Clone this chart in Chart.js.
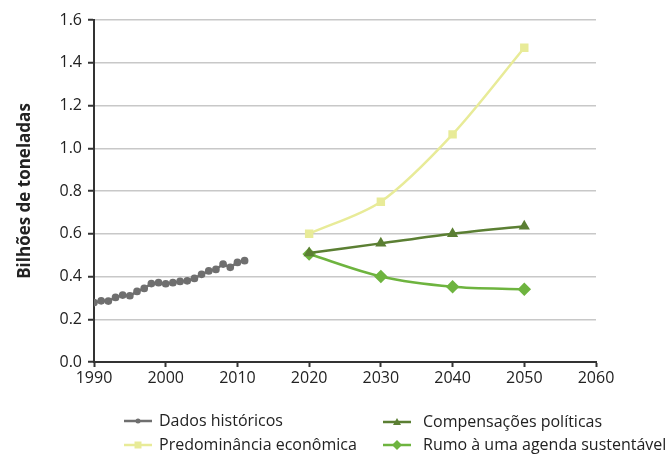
<!DOCTYPE html>
<html>
<head>
<meta charset="utf-8">
<script src="https://cdn.jsdelivr.net/npm/chart.js@4/dist/chart.umd.min.js"></script>
<style>
  html, body { margin: 0; padding: 0; background: #fff; }
  #wrap { width: 672px; height: 456px; position: relative; }
</style>
</head>
<body>
<div id="wrap"><canvas id="chart" width="672" height="456"></canvas></div>
<script>
const histYears = [1990, 1991, 1992, 1993, 1994, 1995, 1996, 1997, 1998, 1999, 2000,
  2001, 2002, 2003, 2004, 2005, 2006, 2007, 2008, 2009, 2010, 2011];
const histValues = [0.278, 0.286, 0.285, 0.302, 0.313, 0.31, 0.33, 0.344, 0.367, 0.371, 0.366,
  0.371, 0.377, 0.38, 0.391, 0.41, 0.426, 0.433, 0.458, 0.443, 0.466, 0.474];

const projYears = [2020, 2030, 2040, 2050];
const economica = [0.60, 0.75, 1.065, 1.47];
const compensacoes = [0.51, 0.555, 0.60, 0.635];
const sustentavel = [0.505, 0.40, 0.352, 0.34];

const yTicks = [0, 0.2, 0.4, 0.6, 0.8, 1.0, 1.2, 1.4, 1.6];
const xTicks = [1990, 2000, 2010, 2020, 2030, 2040, 2050, 2060];

const FONT = '"Open Sans", Lato, sans-serif';
const toPoints = (xs, ys) => xs.map((x, i) => ({ x: x, y: ys[i] }));

// legend slots: [lineStart x, line y, text x]
const legendSlots = [
  [124, 421, 159],
  [383, 422, 423],
  [124, 445, 159],
  [383, 445, 423]
];

const legendPlugin = {
  id: 'gridLegend',
  afterDraw(chart) {
    const ctx = chart.ctx;
    chart.data.datasets.forEach((ds, i) => {
      const [lx, ly, tx] = legendSlots[i];
      ctx.save();
      ctx.strokeStyle = ds.borderColor;
      ctx.lineWidth = 2.5;
      ctx.beginPath();
      ctx.moveTo(lx, ly);
      ctx.lineTo(lx + 28, ly);
      ctx.stroke();
      ctx.fillStyle = ds.backgroundColor;
      const cx = lx + 14;
      ctx.beginPath();
      if (ds.pointStyle === 'rect') {
        ctx.rect(cx - 3.5, ly - 3.5, 7, 7);
      } else if (ds.pointStyle === 'triangle') {
        ctx.moveTo(cx, ly - 4); ctx.lineTo(cx + 4, ly + 3); ctx.lineTo(cx - 4, ly + 3); ctx.closePath();
      } else if (ds.pointStyle === 'rectRot') {
        ctx.moveTo(cx, ly - 5); ctx.lineTo(cx + 5, ly); ctx.lineTo(cx, ly + 5); ctx.lineTo(cx - 5, ly); ctx.closePath();
      } else {
        ctx.arc(cx, ly, 2.5, 0, Math.PI * 2);
      }
      ctx.fill();
      ctx.fillStyle = '#222';
      ctx.font = '16px ' + FONT;
      ctx.textBaseline = 'middle';
      ctx.textAlign = 'left';
      ctx.fillText(ds.label, tx, ly);
      ctx.restore();
    });
  }
};

new Chart(document.getElementById('chart'), {
  type: 'line',
  data: {
    datasets: [
      {
        label: 'Dados históricos',
        data: toPoints(histYears, histValues),
        borderColor: '#6f6f6f',
        backgroundColor: '#6f6f6f',
        pointStyle: 'circle',
        pointRadius: 2.6,
        borderWidth: 2.5,
        tension: 0
      },
      {
        label: 'Compensações políticas',
        data: toPoints(projYears, compensacoes),
        borderColor: '#5b7f33',
        backgroundColor: '#5b7f33',
        pointStyle: 'triangle',
        pointRadius: 4,
        borderWidth: 2.5,
        tension: 0.3
      },
      {
        label: 'Predominância econômica',
        data: toPoints(projYears, economica),
        borderColor: '#e8eb98',
        backgroundColor: '#e8eb98',
        pointStyle: 'rect',
        pointRadius: 4.2,
        borderWidth: 2.5,
        tension: 0.3
      },
      {
        label: 'Rumo à uma agenda sustentável',
        data: toPoints(projYears, sustentavel),
        borderColor: '#6eb43f',
        backgroundColor: '#6eb43f',
        pointStyle: 'rectRot',
        pointRadius: 5,
        borderWidth: 2.5,
        tension: 0.3
      }
    ]
  },
  options: {
    responsive: false,
    animation: false,
    layout: { padding: { left: 15, right: 76, top: 20, bottom: 0 } },
    plugins: {
      legend: { display: false },
      tooltip: { enabled: false }
    },
    scales: {
      x: {
        type: 'linear',
        min: 1990,
        max: 2060,
        afterBuildTicks: axis => { axis.ticks = xTicks.map(v => ({ value: v })); },
        afterFit: axis => { axis.height = 94; },
        ticks: {
          color: '#222',
          font: { size: 16, family: FONT },
          padding: 2,
          maxRotation: 0,
          callback: v => String(v)
        },
        grid: { drawOnChartArea: false, drawTicks: true, tickLength: 5, tickColor: '#333', tickWidth: 2 },
        border: { color: '#333', width: 2 }
      },
      y: {
        min: 0,
        max: 1.6,
        afterBuildTicks: axis => { axis.ticks = yTicks.map(v => ({ value: v })); },
        afterFit: axis => { axis.width = 79; },
        ticks: {
          color: '#222',
          font: { size: 16, family: FONT },
          padding: 6,
          callback: v => v.toFixed(1)
        },
        grid: { color: '#c8c8c8', lineWidth: 1.5, tickLength: 6, tickColor: '#333', tickWidth: 2 },
        border: { color: '#333', width: 2 },
        title: {
          display: true,
          text: 'Bilhões de toneladas',
          color: '#222',
          font: { size: 17, weight: 'bold', family: FONT },
          padding: { top: 0, bottom: 4 }
        }
      }
    }
  },
  plugins: [legendPlugin]
});
</script>
</body>
</html>
